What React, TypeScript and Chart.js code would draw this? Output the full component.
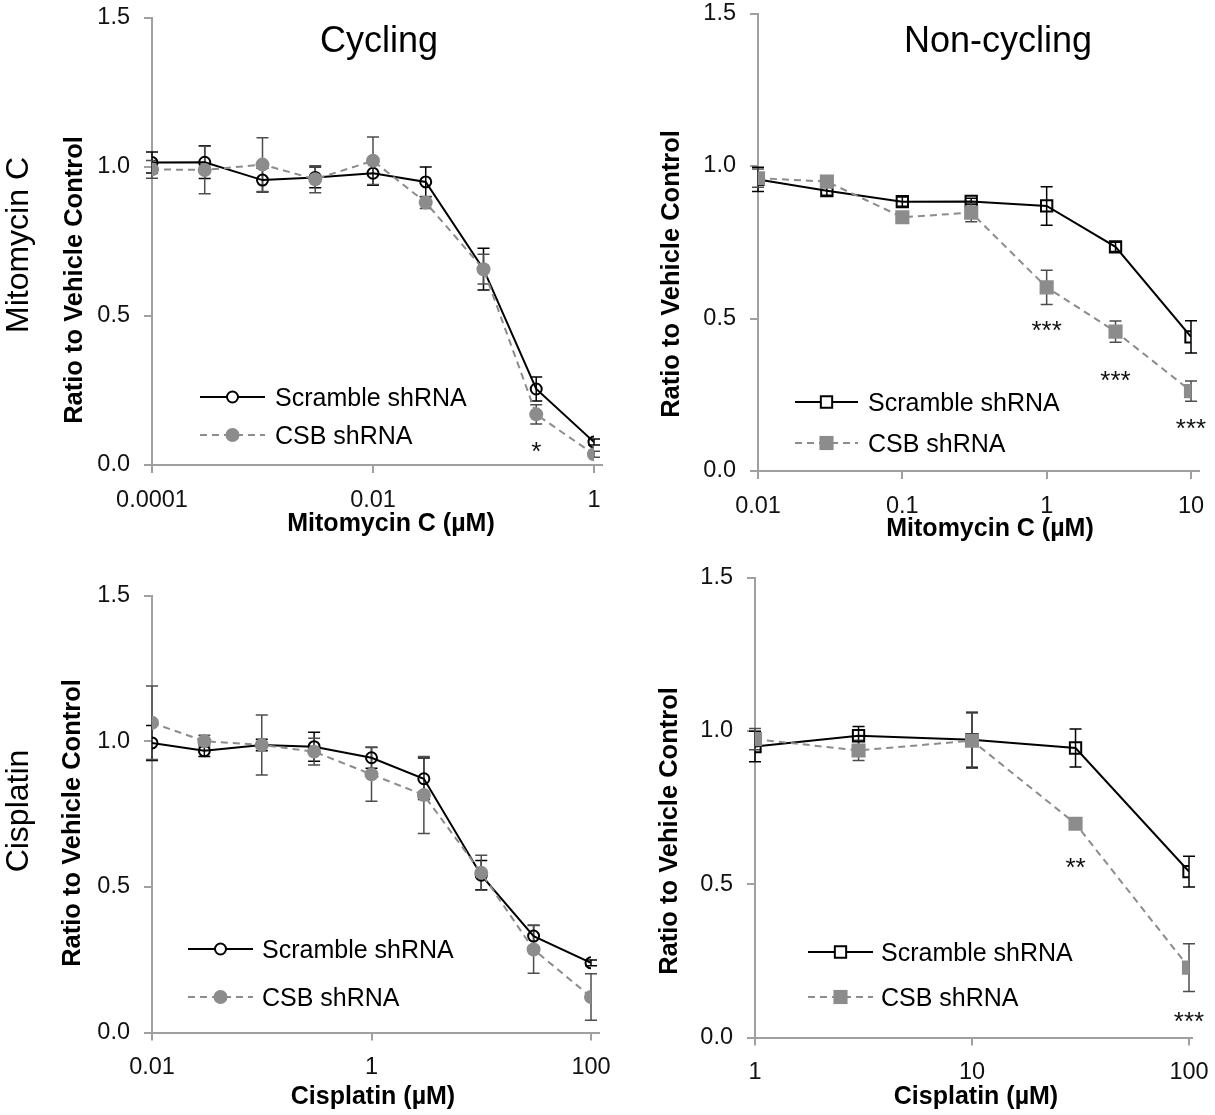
import React, { useEffect, useRef } from 'react';
import { Chart, registerables } from 'chart.js';

Chart.register(...registerables);

const FONT = '"Liberation Sans", Arial, Helvetica, sans-serif';
Chart.defaults.font.family = FONT;

// ---------- shared ----------
const yTickValues = [0, 0.5, 1.0, 1.5];
const yTickLabels = ['0.0', '0.5', '1.0', '1.5'];
const seriesNames = ['Scramble shRNA', 'CSB shRNA'];
const yAxisTitle = 'Ratio to Vehicle Control';

// ---------- Mitomycin C, cycling ----------
const mmcCycDose = [0.0001, 0.0003, 0.001, 0.003, 0.01, 0.03, 0.1, 0.3, 1];
const mmcCycScramble = [1.015, 1.016, 0.956, 0.965, 0.979, 0.95, 0.657, 0.255, 0.077];
const mmcCycScrambleErr = [0.035, 0.055, 0.04, 0.035, 0.04, 0.05, 0.07, 0.04, 0.01];
const mmcCycCsb = [0.992, 0.99, 1.008, 0.959, 1.021, 0.881, 0.657, 0.17, 0.036];
const mmcCycCsbErr = [0.03, 0.08, 0.09, 0.045, 0.08, 0.02, 0.05, 0.032, 0.01];
const mmcCycStars = [{ dose: 0.3, value: 0.067, text: '*' }];
const mmcCycTicks = [0.0001, 0.01, 1];
const mmcCycTickLabels = ['0.0001', '0.01', '1'];

// ---------- Mitomycin C, non-cycling ----------
const mmcNonDose = [0.01, 0.03, 0.1, 0.3, 1, 3, 10];
const mmcNonScramble = [0.956, 0.919, 0.883, 0.884, 0.869, 0.735, 0.44];
const mmcNonScrambleErr = [0.04, 0.015, 0.015, 0.01, 0.063, 0.015, 0.053];
const mmcNonCsb = [0.96, 0.949, 0.832, 0.847, 0.602, 0.457, 0.262];
const mmcNonCsbErr = [0.03, 0.015, 0.015, 0.03, 0.056, 0.035, 0.033];
const mmcNonStars = [
  { dose: 1, value: 0.481, text: '***' },
  { dose: 3, value: 0.317, text: '***' },
  { dose: 10, value: 0.162, text: '***' },
];
const mmcNonTicks = [0.01, 0.1, 1, 10];
const mmcNonTickLabels = ['0.01', '0.1', '1', '10'];

// ---------- Cisplatin, cycling ----------
const cisCycDose = [0.01, 0.03, 0.1, 0.3, 1, 3, 10, 30, 100];
const cisCycScramble = [0.994, 0.967, 0.987, 0.981, 0.943, 0.871, 0.54, 0.331, 0.239];
const cisCycScrambleErr = [0.06, 0.02, 0.02, 0.05, 0.036, 0.071, 0.05, 0.037, 0.01];
const cisCycCsb = [1.063, 1.0, 0.987, 0.964, 0.886, 0.815, 0.548, 0.285, 0.122];
const cisCycCsbErr = [0.126, 0.02, 0.103, 0.046, 0.092, 0.132, 0.06, 0.082, 0.08];
const cisCycStars: { dose: number; value: number; text: string }[] = [];
const cisCycTicks = [0.01, 1, 100];
const cisCycTickLabels = ['0.01', '1', '100'];

// ---------- Cisplatin, non-cycling ----------
const cisNonDose = [1, 3, 10, 30, 100];
const cisNonScramble = [0.949, 0.984, 0.971, 0.944, 0.541];
const cisNonScrambleErr = [0.05, 0.03, 0.09, 0.062, 0.05];
const cisNonCsb = [0.973, 0.936, 0.968, 0.697, 0.228];
const cisNonCsbErr = [0.035, 0.033, 0.09, 0.01, 0.078];
const cisNonStars = [
  { dose: 30, value: 0.574, text: '**' },
  { dose: 100, value: 0.074, text: '***' },
];
const cisNonTicks = [1, 10, 100];
const cisNonTickLabels = ['1', '10', '100'];

// ---------- layout of the four panels (local canvas pixels) ----------
const PANELS = [
  {
    key: 'p1',
    rect: { x: 0, y: 0, w: 620, h: 557 },
    area: { left: 152, top: 18, right: 594, bottom: 465 },
    axisExtend: 9,
    marker: 'circle',
    dose: mmcCycDose, scramble: mmcCycScramble, scrambleErr: mmcCycScrambleErr,
    csb: mmcCycCsb, csbErr: mmcCycCsbErr, stars: mmcCycStars,
    xMin: 0.0001, xMax: 1, xTicks: mmcCycTicks, xTickLabels: mmcCycTickLabels,
    title: { text: 'Cycling', x: 379, y: 52 },
    rowLabel: { text: 'Mitomycin C', x: 28, y: 245 },
    yTitle: { x: 82, y: 280 },
    xTitle: { text: 'Mitomycin C (µM)', x: 391, y: 531 },
    legend: { x1: 200, x2: 265, tx: 275, y1: 397, y2: 435 },
  },
  {
    key: 'p2',
    rect: { x: 607, y: 0, w: 608, h: 557 },
    area: { left: 151, top: 13.5, right: 584, bottom: 471 },
    axisExtend: 9,
    marker: 'rect',
    dose: mmcNonDose, scramble: mmcNonScramble, scrambleErr: mmcNonScrambleErr,
    csb: mmcNonCsb, csbErr: mmcNonCsbErr, stars: mmcNonStars,
    xMin: 0.01, xMax: 10, xTicks: mmcNonTicks, xTickLabels: mmcNonTickLabels,
    title: { text: 'Non-cycling', x: 391, y: 52 },
    rowLabel: null,
    yTitle: { x: 72, y: 274 },
    xTitle: { text: 'Mitomycin C (µM)', x: 383, y: 536 },
    legend: { x1: 188, x2: 251, tx: 261, y1: 402, y2: 443 },
  },
  {
    key: 'p3',
    rect: { x: 0, y: 557, w: 620, h: 558 },
    area: { left: 152, top: 38.5, right: 591, bottom: 475.5 },
    axisExtend: 9,
    marker: 'circle',
    dose: cisCycDose, scramble: cisCycScramble, scrambleErr: cisCycScrambleErr,
    csb: cisCycCsb, csbErr: cisCycCsbErr, stars: cisCycStars,
    xMin: 0.01, xMax: 100, xTicks: cisCycTicks, xTickLabels: cisCycTickLabels,
    title: null,
    rowLabel: { text: 'Cisplatin', x: 28, y: 254 },
    yTitle: { x: 80, y: 266 },
    xTitle: { text: 'Cisplatin (µM)', x: 373, y: 547 },
    legend: { x1: 188, x2: 253, tx: 262, y1: 392, y2: 440 },
  },
  {
    key: 'p4',
    rect: { x: 607, y: 557, w: 608, h: 558 },
    area: { left: 148, top: 20.5, right: 582, bottom: 480.5 },
    axisExtend: 4,
    marker: 'rect',
    dose: cisNonDose, scramble: cisNonScramble, scrambleErr: cisNonScrambleErr,
    csb: cisNonCsb, csbErr: cisNonCsbErr, stars: cisNonStars,
    xMin: 1, xMax: 100, xTicks: cisNonTicks, xTickLabels: cisNonTickLabels,
    title: null,
    rowLabel: null,
    yTitle: { x: 70, y: 274 },
    xTitle: { text: 'Cisplatin (µM)', x: 369, y: 547 },
    legend: { x1: 201, x2: 266, tx: 274, y1: 395, y2: 440 },
  },
];

const BLACK = '#000000';
const GRAY = '#8c8c8c';
const GRAY_ERR = '#4d4d4d';
const AXIS = '#a0a0a0';
const TICK_SIZE = 23.5;

function drawMarker(ctx: CanvasRenderingContext2D, style: string, x: number, y: number, r: number, fill: string, stroke: string | null, lw: number) {
  ctx.beginPath();
  if (style === 'rect') {
    const s = Math.SQRT1_2 * r;
    ctx.rect(x - s, y - s, 2 * s, 2 * s);
  } else {
    ctx.arc(x, y, r, 0, Math.PI * 2);
  }
  ctx.fillStyle = fill;
  ctx.fill();
  if (stroke) {
    ctx.lineWidth = lw;
    ctx.strokeStyle = stroke;
    ctx.stroke();
  }
}

function makeChart(canvas: HTMLCanvasElement, p: any) {
  const sq = p.marker === 'rect';
  const openR = sq ? 8 : 5.5;
  const fillR = sq ? 10 : 7;
  const yWidth = p.area.left;
  const xHeight = p.rect.h - p.area.bottom;

  const decor = {
    id: 'decor',
    beforeDatasetsDraw(chart: any) {
      const { ctx, scales, chartArea } = chart;
      const x = scales.x, y = scales.y;
      ctx.save();
      // small extension of the category axis beyond the last tick
      ctx.strokeStyle = AXIS;
      ctx.lineWidth = 2;
      ctx.beginPath();
      const by = Math.round(chartArea.bottom) + 0;
      ctx.moveTo(chartArea.right, by);
      ctx.lineTo(chartArea.right + p.axisExtend, by);
      ctx.stroke();
      const bars = (vals: number[], errs: number[], color: string) => {
        ctx.strokeStyle = color;
        ctx.lineWidth = 1.5;
        p.dose.forEach((d: number, i: number) => {
          const px = x.getPixelForValue(d);
          const top = y.getPixelForValue(vals[i] + errs[i]);
          const bot = y.getPixelForValue(vals[i] - errs[i]);
          ctx.beginPath();
          ctx.moveTo(px, top); ctx.lineTo(px, bot);
          ctx.moveTo(px - 6, top); ctx.lineTo(px + 6, top);
          ctx.moveTo(px - 6, bot); ctx.lineTo(px + 6, bot);
          ctx.stroke();
        });
      };
      bars(p.scramble, p.scrambleErr, BLACK);
      bars(p.csb, p.csbErr, GRAY_ERR);
      ctx.restore();
    },
    afterDatasetsDraw(chart: any) {
      const { ctx, scales } = chart;
      ctx.save();
      ctx.font = `26px ${FONT}`;
      ctx.fillStyle = '#111';
      ctx.textAlign = 'center';
      ctx.textBaseline = 'alphabetic';
      p.stars.forEach((s: any) => {
        const px = scales.x.getPixelForValue(s.dose);
        const py = scales.y.getPixelForValue(s.value);
        ctx.fillText(s.text, px, py + 15);
      });
      ctx.restore();
    },
    afterDraw(chart: any) {
      const { ctx } = chart;
      ctx.save();
      ctx.fillStyle = '#000';
      if (p.title) {
        ctx.font = `36px ${FONT}`;
        ctx.textAlign = 'center';
        ctx.textBaseline = 'alphabetic';
        ctx.fillText(p.title.text, p.title.x, p.title.y);
      }
      if (p.rowLabel) {
        ctx.save();
        ctx.translate(p.rowLabel.x, p.rowLabel.y);
        ctx.rotate(-Math.PI / 2);
        ctx.font = `32px ${FONT}`;
        ctx.textAlign = 'center';
        ctx.textBaseline = 'alphabetic';
        ctx.fillText(p.rowLabel.text, 0, 0);
        ctx.restore();
      }
      ctx.save();
      ctx.translate(p.yTitle.x, p.yTitle.y);
      ctx.rotate(-Math.PI / 2);
      ctx.font = `bold 25.5px ${FONT}`;
      ctx.textAlign = 'center';
      ctx.textBaseline = 'alphabetic';
      ctx.fillText(yAxisTitle, 0, 0);
      ctx.restore();
      ctx.font = `bold 25px ${FONT}`;
      ctx.textAlign = 'center';
      ctx.textBaseline = 'alphabetic';
      ctx.fillText(p.xTitle.text, p.xTitle.x, p.xTitle.y);
      // legend
      const L = p.legend;
      const mid = (L.x1 + L.x2) / 2;
      ctx.lineCap = 'butt';
      ctx.beginPath();
      ctx.strokeStyle = BLACK;
      ctx.lineWidth = 2;
      ctx.setLineDash([]);
      ctx.moveTo(L.x1, L.y1); ctx.lineTo(L.x2, L.y1);
      ctx.stroke();
      drawMarker(ctx, p.marker, mid, L.y1, openR, '#ffffff', BLACK, 2);
      ctx.beginPath();
      ctx.strokeStyle = GRAY;
      ctx.lineWidth = 2;
      ctx.setLineDash([7, 5]);
      ctx.moveTo(L.x1, L.y2); ctx.lineTo(L.x2, L.y2);
      ctx.stroke();
      ctx.setLineDash([]);
      drawMarker(ctx, p.marker, mid, L.y2, fillR, GRAY, null, 0);
      ctx.fillStyle = '#000';
      ctx.font = `25px ${FONT}`;
      ctx.textAlign = 'left';
      ctx.textBaseline = 'alphabetic';
      ctx.fillText(seriesNames[0], L.tx, L.y1 + 9);
      ctx.fillText(seriesNames[1], L.tx, L.y2 + 9);
      ctx.restore();
    },
  };

  const gridOpts = {
    display: true,
    drawOnChartArea: false,
    drawTicks: true,
    tickLength: 8,
    color: AXIS,
    lineWidth: 2,
  };

  return new Chart(canvas, {
    type: 'line',
    data: {
      datasets: [
        {
          label: seriesNames[0],
          data: p.dose.map((d: number, i: number) => ({ x: d, y: p.scramble[i] })),
          borderColor: BLACK,
          borderWidth: 2,
          pointStyle: p.marker,
          pointRadius: openR,
          pointBorderWidth: 2,
          pointBorderColor: BLACK,
          pointBackgroundColor: 'rgba(255,255,255,0)',
          tension: 0,
          fill: false,
          order: 1,
        },
        {
          label: seriesNames[1],
          data: p.dose.map((d: number, i: number) => ({ x: d, y: p.csb[i] })),
          borderColor: GRAY,
          borderWidth: 2,
          borderDash: [7, 5],
          pointStyle: p.marker,
          pointRadius: fillR,
          pointBorderWidth: 0,
          pointBorderColor: GRAY,
          pointBackgroundColor: GRAY,
          tension: 0,
          fill: false,
          order: 0,
        },
      ],
    },
    options: {
      animation: false,
      responsive: false,
      devicePixelRatio: 1,
      layout: {
        padding: { left: 0, top: p.area.top, right: p.rect.w - p.area.right, bottom: 0 },
      },
      plugins: {
        legend: { display: false },
        tooltip: { enabled: false },
        title: { display: false },
      },
      scales: {
        x: {
          type: 'logarithmic',
          position: 'bottom',
          min: p.xMin,
          max: p.xMax,
          grid: gridOpts,
          border: { display: true, color: AXIS, width: 2 },
          ticks: {
            font: { size: TICK_SIZE, family: FONT },
            color: '#111111',
            padding: 13,
            maxRotation: 0,
            autoSkip: false,
            callback: (_v: any, i: number) => p.xTickLabels[i],
          },
          afterBuildTicks: (scale: any) => {
            scale.ticks = p.xTicks.map((v: number) => ({ value: v }));
          },
          afterFit: (scale: any) => {
            scale.height = xHeight;
            scale.paddingLeft = 0;
            scale.paddingRight = 0;
          },
        },
        y: {
          type: 'linear',
          position: 'left',
          min: 0,
          max: 1.5,
          grid: gridOpts,
          border: { display: true, color: AXIS, width: 2 },
          ticks: {
            font: { size: TICK_SIZE, family: FONT },
            color: '#111111',
            padding: 14,
            stepSize: 0.5,
            callback: (v: any) => {
              const idx = yTickValues.findIndex((t) => Math.abs(t - Number(v)) < 1e-9);
              return idx >= 0 ? yTickLabels[idx] : '';
            },
          },
          afterFit: (scale: any) => {
            scale.width = yWidth;
            scale.paddingTop = 0;
            scale.paddingBottom = 0;
          },
        },
      },
    } as any,
    plugins: [decor as any],
  });
}

function Panel({ p }: { p: any }) {
  const ref = useRef<HTMLCanvasElement | null>(null);
  useEffect(() => {
    if (!ref.current) return;
    const chart = makeChart(ref.current, p);
    return () => chart.destroy();
  }, [p]);
  return (
    <canvas
      ref={ref}
      width={p.rect.w}
      height={p.rect.h}
      style={{ position: 'absolute', left: p.rect.x, top: p.rect.y, width: p.rect.w, height: p.rect.h }}
    />
  );
}

export default function App() {
  return (
    <div style={{ position: 'absolute', left: 0, top: 0, width: 1215, height: 1115, background: '#ffffff', overflow: 'hidden' }}>
      {PANELS.map((p) => (
        <Panel key={p.key} p={p} />
      ))}
    </div>
  );
}
